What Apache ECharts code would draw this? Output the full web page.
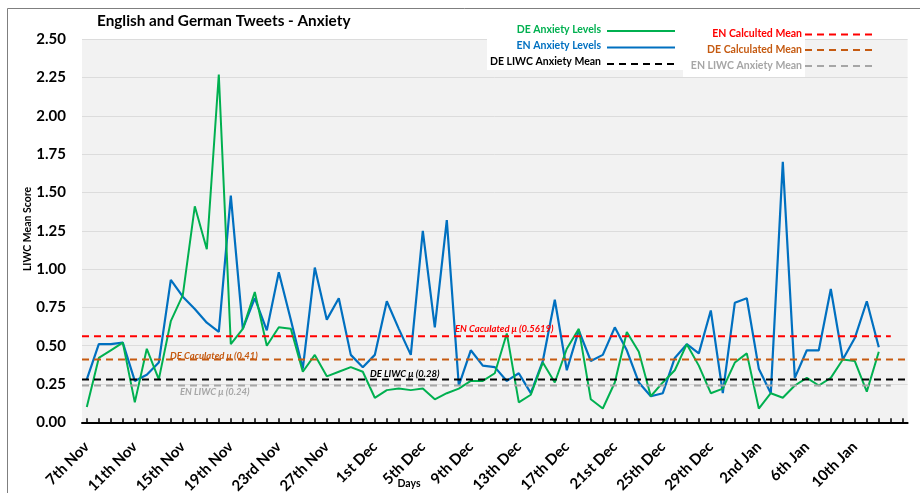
<!DOCTYPE html>
<html>
<head>
<meta charset="utf-8">
<script src="https://cdn.jsdelivr.net/npm/echarts@6/dist/echarts.min.js"></script>
<style>
html,body{margin:0;padding:0;background:#fff;}
#chart{width:920px;height:493px;}
</style>
</head>
<body>
<div id="chart"></div>
<script>
// ---- data (index 0 = 7th Nov, one point per day) ----
const tickIndex = [0, 4, 8, 12, 16, 20, 24, 28, 32, 36, 40, 44, 48, 52, 56, 60, 64];
const tickLabels = ['7th Nov', '11th Nov', '15th Nov', '19th Nov', '23rd Nov', '27th Nov', '1st Dec', '5th Dec', '9th Dec', '13th Dec', '17th Dec', '21st Dec', '25th Dec', '29th Dec', '2nd Jan', '6th Jan', '10th Jan'];
const deValues = [0.10, 0.42, 0.47, 0.52, 0.13, 0.48, 0.28, 0.66, 0.83, 1.41, 1.13, 2.27, 0.51, 0.61, 0.85, 0.50, 0.62, 0.61, 0.33, 0.44, 0.30, 0.33, 0.36, 0.33, 0.16, 0.21, 0.22, 0.21, 0.22, 0.15, 0.19, 0.22, 0.27, 0.27, 0.32, 0.58, 0.13, 0.18, 0.39, 0.26, 0.48, 0.61, 0.15, 0.09, 0.26, 0.59, 0.46, 0.17, 0.26, 0.34, 0.51, 0.37, 0.19, 0.22, 0.39, 0.45, 0.09, 0.19, 0.16, 0.24, 0.29, 0.24, 0.29, 0.41, 0.40, 0.20, 0.46];
const enValues = [0.28, 0.51, 0.51, 0.52, 0.27, 0.31, 0.39, 0.93, 0.82, 0.74, 0.65, 0.59, 1.48, 0.61, 0.81, 0.60, 0.98, 0.67, 0.35, 1.01, 0.67, 0.81, 0.44, 0.36, 0.44, 0.79, 0.61, 0.44, 1.25, 0.62, 1.32, 0.24, 0.47, 0.37, 0.36, 0.27, 0.32, 0.19, 0.40, 0.80, 0.34, 0.60, 0.40, 0.44, 0.62, 0.47, 0.26, 0.17, 0.19, 0.42, 0.51, 0.45, 0.73, 0.19, 0.78, 0.81, 0.35, 0.19, 1.70, 0.29, 0.47, 0.47, 0.87, 0.41, 0.55, 0.79, 0.49];
const enCalcMean = 0.5619;
const deCalcMean = 0.41;
const deLiwcMean = 0.28;
const enLiwcMean = 0.24;

const X_MIN = -0.4, X_MAX = 68.4, SHORT_END = 67;
const FONT = 'Lato, "Open Sans", sans-serif';
const allTicks = [];
for (let i = 0; i <= 68; i++) allTicks.push(i);
const labelMap = {};
tickIndex.forEach((t, k) => { labelMap[t] = tickLabels[k]; });

const toPairs = arr => arr.map((v, i) => [i, v]);
const flat = (v, end) => [[X_MIN, v], [end, v]];
const dash = [7, 5];

const chart = echarts.init(document.getElementById('chart'), null, {renderer: 'canvas'});
chart.setOption({
  animation: false,
  backgroundColor: '#ffffff',
  grid: {left: 82, right: 12.4, top: 39.3, bottom: 70.7, show: true, backgroundColor: '#f2f2f2', borderWidth: 0,
    containLabel: false, outerBoundsMode: 'none'},
  xAxis: {
    type: 'value', min: X_MIN, max: X_MAX,
    splitLine: {show: false},
    axisLine: {show: true, onZero: false, lineStyle: {color: '#000', width: 2}},
    axisTick: {show: true, inside: true, length: 4, customValues: allTicks, lineStyle: {color: '#000', width: 1.5}},
    axisLabel: {show: true, customValues: tickIndex, rotate: 45, margin: 22, color: '#000',
      fontFamily: FONT, fontWeight: 'bold', fontSize: 15,
      formatter: v => labelMap[Math.round(v)] || ''}
  },
  yAxis: {
    type: 'value', min: 0, max: 2.5, interval: 0.25,
    axisLine: {show: false}, axisTick: {show: false},
    splitLine: {show: true, lineStyle: {color: '#dcdcdc', width: 1}},
    axisLabel: {margin: 16, color: '#000', fontFamily: FONT, fontWeight: 'bold', fontSize: 15,
      formatter: v => v.toFixed(2)}
  },
  series: [
    {name: 'DE Anxiety Levels', type: 'line', data: toPairs(deValues), symbol: 'none',
      lineStyle: {color: '#00b050', width: 2}, z: 3},
    {name: 'EN Anxiety Levels', type: 'line', data: toPairs(enValues), symbol: 'none',
      lineStyle: {color: '#0070c0', width: 2.2}, z: 2},
    {name: 'EN Calculted Mean', type: 'line', data: flat(enCalcMean, SHORT_END), symbol: 'none',
      lineStyle: {color: '#ff0000', width: 2, type: dash}, z: 4},
    {name: 'DE Calculated Mean', type: 'line', data: flat(deCalcMean, X_MAX), symbol: 'none',
      lineStyle: {color: '#c55a11', width: 2, type: dash}, z: 4},
    {name: 'DE LIWC Anxiety Mean', type: 'line', data: flat(deLiwcMean, X_MAX), symbol: 'none',
      lineStyle: {color: '#000000', width: 2, type: dash}, z: 4},
    {name: 'EN LIWC Anxiety Mean', type: 'line', data: flat(enLiwcMean, SHORT_END), symbol: 'none',
      lineStyle: {color: '#a6a6a6', width: 2, type: dash}, z: 4}
  ],
  graphic: [
    // outer border
    {type: 'rect', shape: {x: 7.5, y: 8.5, width: 930, height: 500}, style: {fill: 'none', stroke: '#7f7f7f', lineWidth: 1}, z: 100},
    // title
    {type: 'text', x: 97, y: 21, style: {text: 'English and German Tweets - Anxiety', fontFamily: FONT, fontWeight: 'bold', fontSize: 15.3, fill: '#000', verticalAlign: 'middle'}, z: 100},
    // y axis title
    {type: 'text', x: 28, y: 229, rotation: Math.PI / 2, style: {text: 'LIWC Mean Score', align: 'center', verticalAlign: 'middle', fontFamily: FONT, fontWeight: 'bold', fontSize: 10.5, fill: '#000'}, z: 60},
    // legend white boxes
    {type: 'rect', shape: {x: 487, y: 39, width: 198, height: 31}, style: {fill: '#ffffff'}, z: 50},
    {type: 'rect', shape: {x: 683, y: 39, width: 122, height: 38}, style: {fill: '#ffffff'}, z: 50},
    // left legend
    {type: 'text', x: 601, y: 30, style: {text: 'DE Anxiety Levels', align: 'right', verticalAlign: 'middle', fontFamily: FONT, fontWeight: 'bold', fontSize: 10.5, fill: '#00b050'}, z: 60},
    {type: 'line', shape: {x1: 607, y1: 31, x2: 675, y2: 31}, style: {stroke: '#00b050', lineWidth: 2}, z: 60},
    {type: 'text', x: 601, y: 46, style: {text: 'EN Anxiety Levels', align: 'right', verticalAlign: 'middle', fontFamily: FONT, fontWeight: 'bold', fontSize: 10.5, fill: '#0070c0'}, z: 60},
    {type: 'line', shape: {x1: 607, y1: 47.5, x2: 675, y2: 47.5}, style: {stroke: '#0070c0', lineWidth: 2}, z: 60},
    {type: 'text', x: 601, y: 62, style: {text: 'DE LIWC Anxiety Mean', align: 'right', verticalAlign: 'middle', fontFamily: FONT, fontWeight: 'bold', fontSize: 10.5, fill: '#000'}, z: 60},
    {type: 'line', shape: {x1: 607, y1: 64, x2: 675, y2: 64}, style: {stroke: '#000', lineWidth: 2, lineDash: dash}, z: 60},
    // right legend
    {type: 'text', x: 802, y: 34, style: {text: 'EN Calculted Mean', align: 'right', verticalAlign: 'middle', fontFamily: FONT, fontWeight: 'bold', fontSize: 10.5, fill: '#ff0000'}, z: 60},
    {type: 'line', shape: {x1: 805, y1: 34.5, x2: 872, y2: 34.5}, style: {stroke: '#ff0000', lineWidth: 2, lineDash: dash}, z: 60},
    {type: 'text', x: 802, y: 50, style: {text: 'DE Calculated Mean', align: 'right', verticalAlign: 'middle', fontFamily: FONT, fontWeight: 'bold', fontSize: 10.5, fill: '#c55a11'}, z: 60},
    {type: 'line', shape: {x1: 805, y1: 50, x2: 872, y2: 50}, style: {stroke: '#c55a11', lineWidth: 2, lineDash: dash}, z: 60},
    {type: 'text', x: 802, y: 66, style: {text: 'EN LIWC Anxiety Mean', align: 'right', verticalAlign: 'middle', fontFamily: FONT, fontWeight: 'bold', fontSize: 10.5, fill: '#a6a6a6'}, z: 60},
    {type: 'line', shape: {x1: 805, y1: 66, x2: 872, y2: 66}, style: {stroke: '#a6a6a6', lineWidth: 2, lineDash: dash}, z: 60},
    // mean annotations
    {type: 'text', x: 455, y: 329, style: {text: 'EN Caculated \u03bc (0.5619)', verticalAlign: 'middle', fontFamily: FONT, fontWeight: 'bold', fontStyle: 'italic', fontSize: 9.5, fill: '#ff0000'}, z: 60},
    {type: 'text', x: 170, y: 356, style: {text: 'DE Caculated \u03bc (0.41)', verticalAlign: 'middle', fontFamily: FONT, fontWeight: 'bold', fontStyle: 'italic', fontSize: 9.5, fill: '#c55a11'}, z: 60},
    {type: 'text', x: 370, y: 373.5, style: {text: 'DE LIWC \u03bc (0.28)', verticalAlign: 'middle', fontFamily: FONT, fontWeight: 'bold', fontStyle: 'italic', fontSize: 9.5, fill: '#000'}, z: 60},
    {type: 'text', x: 180, y: 392, style: {text: 'EN LIWC \u03bc (0.24)', verticalAlign: 'middle', fontFamily: FONT, fontWeight: 'bold', fontStyle: 'italic', fontSize: 9.5, fill: '#a6a6a6'}, z: 60},
    // x axis title
    {type: 'text', x: 409, y: 484, style: {text: 'Days', align: 'center', verticalAlign: 'middle', fontFamily: FONT, fontWeight: 'bold', fontSize: 10.5, fill: '#000'}, z: 60}
  ]
});
</script>
</body>
</html>
